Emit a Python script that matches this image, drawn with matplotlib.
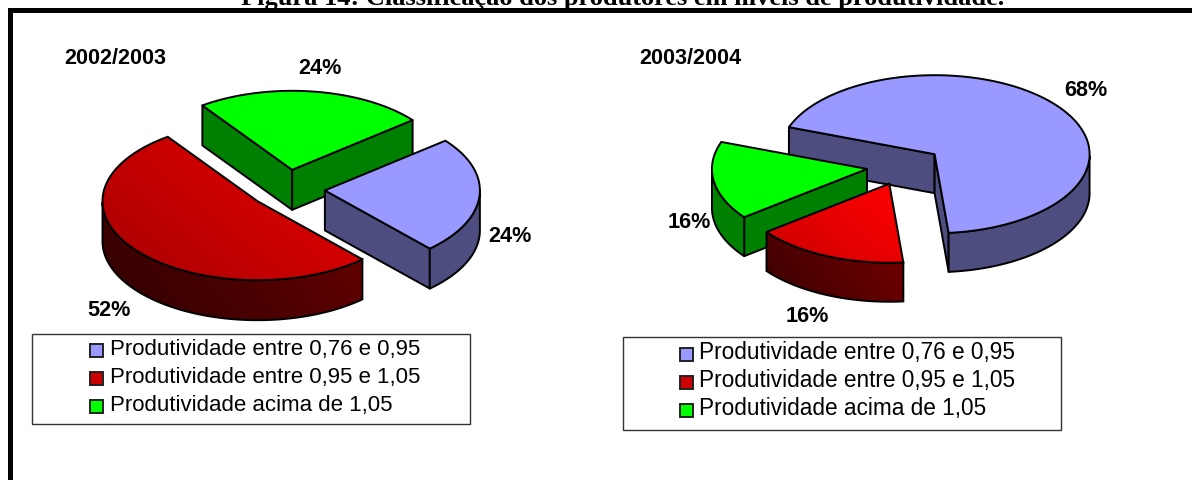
import numpy as np
import matplotlib
matplotlib.use('Agg')
import matplotlib.pyplot as plt
from matplotlib.colors import LinearSegmentedColormap
from matplotlib.patches import Polygon, Rectangle

plt.rcParams['font.family'] = ['Liberation Sans', 'DejaVu Sans']

title = 'Figura 14: Classificação dos produtores em níveis de produtividade.'
categories = ['Produtividade entre 0,76 e 0,95',
              'Produtividade entre 0,95 e 1,05',
              'Produtividade acima de 1,05']
years = ['2002/2003', '2003/2004']
values_2002 = [24, 52, 24]
values_2003 = [68, 16, 16]

RX, RY = 155, 79
EXPLODE = 0.245
EDGE = 1.4
LABEL_FS = 15.6


def face(ax, pts, color):
    ax.add_patch(Polygon(pts, closed=True, fc=color, ec='black', lw=EDGE, joinstyle='round', zorder=ax.z))
    ax.z += 1


def gradient_face(ax, pts, c0, c1, angle=0.0):
    # gradient fill, clipped to the slice polygon
    pts = np.array(pts)
    x0, x1 = pts[:, 0].min(), pts[:, 0].max()
    y0, y1 = pts[:, 1].min(), pts[:, 1].max()
    xx, yy = np.meshgrid(np.linspace(0, 1, 60), np.linspace(0, 1, 60))
    g = xx * np.cos(angle) + (1 - yy) * np.sin(angle)
    g = (g - g.min()) / (g.max() - g.min())
    cmap = LinearSegmentedColormap.from_list('g', [c0, c1])
    im = ax.imshow(g, cmap=cmap, extent=(x0, x1, y1, y0), aspect='auto', zorder=ax.z)
    p = Polygon(pts, closed=True, fc='none', ec='black', lw=EDGE, zorder=ax.z + 1)
    ax.add_patch(p)
    im.set_clip_path(p)
    ax.z += 2


def draw_slice(ax, cx, cy, depth, t1, t2, style):
    # t1 > t2, slice runs clockwise from t1 to t2
    mid = np.radians((t1 + t2) / 2)
    ax0 = cx + EXPLODE * RX * np.cos(mid)
    ay0 = cy - EXPLODE * RY * np.sin(mid)
    th = np.radians(np.linspace(t1, t2, 200))
    ex = ax0 + RX * np.cos(th)
    ey = ay0 - RY * np.sin(th)

    wall = style['wall']
    # flat cut faces that look toward the viewer
    if np.cos(np.radians(t1)) < 0:
        wall([(ax0, ay0), (ex[0], ey[0]), (ex[0], ey[0] + depth), (ax0, ay0 + depth)])
    if np.cos(np.radians(t2)) > 0:
        wall([(ax0, ay0), (ex[-1], ey[-1]), (ex[-1], ey[-1] + depth), (ax0, ay0 + depth)])
    # rim, only the lower half of the ellipse shows
    front = np.sin(th) < 0
    if front.any():
        rx, ry = ex[front], ey[front]
        wall(list(zip(rx, ry)) + list(zip(rx[::-1], ry[::-1] + depth)))
    style['top'](list(zip(ex, ey)) + [(ax0, ay0)])


def styles(ax, red_cols):
    blue = {'wall': lambda p: face(ax, p, '#4d4d80'), 'top': lambda p: face(ax, p, '#9999ff')}
    red = {'wall': lambda p: gradient_face(ax, p, red_cols[0], red_cols[1], 0.35),
           'top': lambda p: gradient_face(ax, p, red_cols[2], red_cols[3], 0.6)}
    green = {'wall': lambda p: face(ax, p, '#008000'), 'top': lambda p: face(ax, p, '#00ff00')}
    return [blue, red, green]


def draw_pie(ax, values, cx, cy, depth, start, order, red_cols):
    st = styles(ax, red_cols)
    spans = np.array(values) / sum(values) * 360
    edges = start - np.concatenate([[0], np.cumsum(spans)])
    for i in order:
        draw_slice(ax, cx, cy, depth, edges[i], edges[i + 1], st[i])


def draw_legend(ax, x0, y0, w, h, sx, tx, rows, fs):
    ax.add_patch(Rectangle((x0, y0), w, h, fc='white', ec='#333333', lw=1, zorder=500))
    colors = ['#9999ff', '#cc0000', '#00ff00']
    for name, col, y in zip(categories, colors, rows):
        ax.add_patch(Rectangle((sx, y - 5), 13, 13, fc=col, ec='#222222', lw=1.4, zorder=501))
        ax.text(tx, y, name, fontsize=fs, va='center', ha='left', color='black', zorder=501)


fig = plt.figure(figsize=(11.92, 4.8), dpi=100)
ax = fig.add_axes([0, 0, 1, 1])
ax.z = 5
ax.set_xlim(0, 1192)
ax.set_ylim(480, 0)
ax.axis('off')

# page frame, only top and left are in the crop
ax.add_patch(Rectangle((9.5, 9.5), 1300, 600, fc='white', ec='black', lw=3.6, zorder=1))
ax.text(623, 5, title, fontsize=19, fontweight='bold', family=['Liberation Serif', 'DejaVu Serif'],
        ha='center', va='baseline', zorder=600, clip_on=False)

draw_pie(ax, values_2002, 287, 189, 40, 39, [2, 0, 1], ['#300000', '#680000', '#a80000', '#ea0000'])
draw_pie(ax, values_2003, 904.5, 166, 39, 160, [0, 2, 1], ['#3c0000', '#740000', '#cc0000', '#ff0000'])

ax.set_xlim(0, 1192)
ax.set_ylim(480, 0)

for txt, x, y in [(years[0], 115, 58), (years[1], 690, 58)]:
    ax.text(x, y, txt, fontsize=LABEL_FS, fontweight='bold', ha='center', va='center', zorder=600)

labels = [(values_2002[2], 320, 69), (values_2002[0], 510, 236), (values_2002[1], 109, 311),
          (values_2003[0], 1086, 90), (values_2003[2], 689, 223), (values_2003[1], 807, 316)]
for v, x, y in labels:
    ax.text(x, y, f'{v}%', fontsize=LABEL_FS, fontweight='bold', ha='center', va='center', zorder=600)

draw_legend(ax, 32, 334, 438, 90, 90, 110, [349, 377, 405], 16)
draw_legend(ax, 623, 337, 438, 93, 680, 699, [353, 381, 409], 16.3)

fig.savefig('out.png', dpi=100)
